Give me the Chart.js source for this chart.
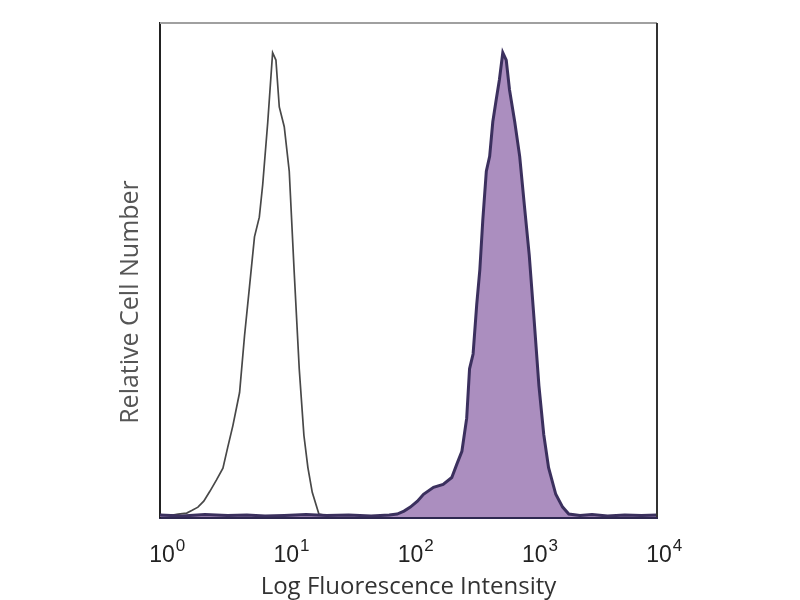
<!DOCTYPE html>
<html lang="en">
<head>
    <meta charset="UTF-8">
    <title>Log Fluorescence Intensity histogram</title>
    <script src="https://cdn.jsdelivr.net/npm/chart.js"></script>
    <style>
        html, body { margin: 0; padding: 0; background: #ffffff; }
        #wrap { width: 800px; height: 600px; }
    </style>
</head>
<body>
    <div id="wrap">
        <canvas id="histChart" width="800" height="600"></canvas>
    </div>

    <script>
        // Tick positions on the log axis and their exponent labels
        const tickValues = [1, 10, 100, 1000, 10000];
        const tickExponents = ['0', '1', '2', '3', '4'];

        // Unstained / control histogram (open outline)
        const openIntensity = [1, 1.2, 1.4, 1.64, 1.8, 2.02, 2.25, 2.52, 2.85, 3.21, 3.5, 3.86, 4.37, 4.79, 5.25, 5.76, 6.3, 6.71, 7.36, 8.06, 8.57, 9.12, 10, 10.97, 12.0, 13.2, 14.4, 15.5, 16.8, 19, 22, 26];
        const openCount = [0.5, 0.3, 0.6, 0.8, 1.3, 2, 3.2, 5.2, 7.5, 9.9, 14, 18.5, 25.2, 36.7, 46.6, 56.7, 60.7, 67.3, 79.8, 94, 92.5, 83, 79, 70, 50, 30, 16.5, 10, 5, 0.6, 0.3, 0.2];

        // Stained histogram (filled)
        const filledIntensity = [1, 1.5, 2.3, 3.5, 5, 7, 10, 15, 22, 33, 50, 70, 81, 92, 103.5, 118, 132, 159, 190, 223, 245, 269, 294, 310, 331, 354, 375, 396, 423, 450, 477, 509, 539, 574, 612, 650, 716, 785, 857, 937, 1025, 1121, 1226, 1341, 1532, 1740, 1950, 2400, 3000, 4000, 5500, 7500, 10000];
        const filledCount = [0.4, 0.2, 0.5, 0.3, 0.4, 0.2, 0.3, 0.5, 0.3, 0.4, 0.2, 0.4, 0.6, 1.2, 2, 3.2, 4.6, 6, 6.6, 8, 10.7, 13.3, 20, 30, 33, 43, 50, 60, 70, 73, 80, 84.6, 88.5, 94, 92.5, 86.5, 80, 73, 63, 53, 40, 26.6, 16.7, 10, 4.6, 2, 0.6, 0.3, 0.5, 0.2, 0.4, 0.3, 0.4];

        const toPoints = (xs, ys) => xs.map((v, i) => ({ x: v, y: ys[i] }));

        // Draws top/right frame lines, the 10^n tick labels and the y title
        const frameAndTicks = {
            id: 'frameAndTicks',
            afterDraw(chart) {
                const { ctx, chartArea: a, scales: { x } } = chart;
                ctx.save();
                ctx.lineWidth = 2;
                ctx.strokeStyle = '#a0a0a0';
                ctx.beginPath();
                ctx.moveTo(a.left, a.top);
                ctx.lineTo(a.right, a.top);
                ctx.stroke();
                ctx.strokeStyle = '#333333';
                ctx.beginPath();
                ctx.moveTo(a.right, a.top);
                ctx.lineTo(a.right, a.bottom);
                ctx.stroke();

                ctx.fillStyle = '#222222';
                ctx.textBaseline = 'alphabetic';
                tickValues.forEach((v, i) => {
                    const px = x.getPixelForValue(v) + 2;
                    ctx.font = '23px "Liberation Sans"';
                    ctx.textAlign = 'center';
                    ctx.fillText('10', px, 562);
                    const w = ctx.measureText('10').width;
                    ctx.font = '17px "Liberation Sans"';
                    ctx.textAlign = 'left';
                    ctx.fillText(tickExponents[i], px + w / 2 + 1, 551);
                });

                // y axis title, rotated
                ctx.translate(131, 302);
                ctx.rotate(-Math.PI / 2);
                ctx.fillStyle = '#555555';
                ctx.font = '25px "Open Sans"';
                ctx.textAlign = 'center';
                ctx.textBaseline = 'middle';
                ctx.fillText('Relative Cell Number', 0, 0);
                ctx.restore();
            }
        };

        function initializeHistogram() {
            const ctx = document.getElementById('histChart').getContext('2d');
            new Chart(ctx, {
                type: 'line',
                data: {
                    datasets: [{
                        label: 'Stained',
                        data: toPoints(filledIntensity, filledCount),
                        borderColor: '#3b305e',
                        borderWidth: 3,
                        backgroundColor: 'rgb(171, 142, 191)',
                        fill: 'origin',
                        pointRadius: 0,
                        tension: 0
                    }, {
                        label: 'Control',
                        data: toPoints(openIntensity, openCount),
                        borderColor: '#484848',
                        borderWidth: 1.7,
                        fill: false,
                        pointRadius: 0,
                        tension: 0
                    }]
                },
                options: {
                    responsive: false,
                    animation: false,
                    layout: {
                        padding: { top: 23, right: 143, left: 0, bottom: 0 }
                    },
                    plugins: {
                        legend: { display: false },
                        tooltip: { enabled: false }
                    },
                    scales: {
                        x: {
                            type: 'logarithmic',
                            min: 1,
                            max: 10000,
                            afterBuildTicks: (scale) => {
                                scale.ticks = tickValues.map(v => ({ value: v }));
                            },
                            afterFit: (scale) => { scale.height = 83; },
                            grid: { display: false },
                            border: { display: true, color: '#2e2850', width: 3 },
                            ticks: { display: false },
                            title: {
                                display: true,
                                text: 'Log Fluorescence Intensity',
                                color: '#333333',
                                font: { family: 'Open Sans', size: 24 },
                                padding: { top: 0, bottom: -2 }
                            }
                        },
                        y: {
                            min: 0,
                            max: 100,
                            afterFit: (scale) => { scale.width = 160; },
                            grid: { display: false },
                            border: { display: true, color: '#222222', width: 2 },
                            ticks: { display: false }
                        }
                    }
                },
                plugins: [frameAndTicks]
            });
        }

        initializeHistogram();
    </script>
</body>
</html>
